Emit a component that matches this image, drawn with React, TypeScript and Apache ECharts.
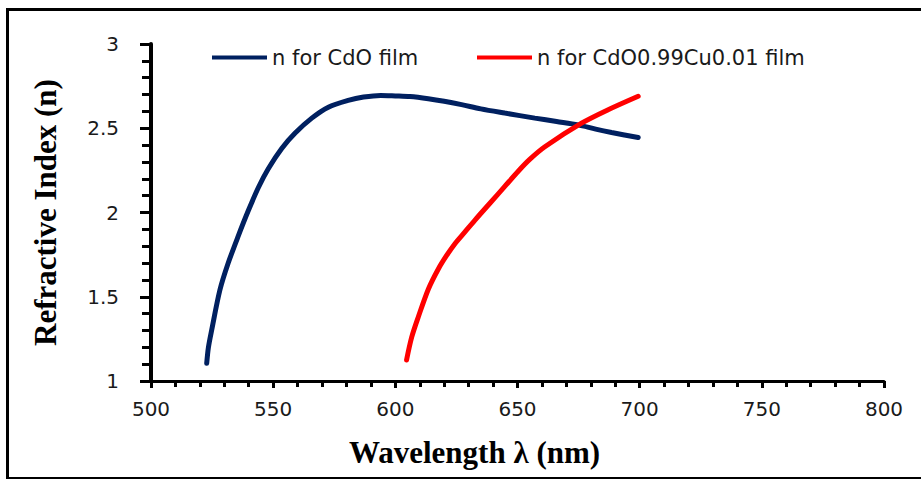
import React, { useEffect, useRef } from "react";
import * as echarts from "echarts";

// Refractive index n versus wavelength for the two films
const cdoWavelength = [522.8, 523.5, 524.8, 528.2, 531.6, 535.7, 539.8, 544.0, 548.0, 553.5, 558.9, 565.8, 572.6, 580.7, 587.0, 594.0, 600.0, 606.0, 613.5, 620.0, 627.1, 635.0, 644.8, 657.1, 666.0, 674.8, 682.0, 688.5, 699.4];
const cdoN = [1.105, 1.2, 1.3, 1.54, 1.7, 1.86, 2.01, 2.15, 2.26, 2.38, 2.47, 2.56, 2.625, 2.665, 2.685, 2.695, 2.692, 2.688, 2.675, 2.66, 2.64, 2.615, 2.59, 2.56, 2.54, 2.52, 2.495, 2.475, 2.445];

const cuWavelength = [604.6, 606.7, 609.4, 613.5, 617.6, 621.0, 624.4, 628.5, 632.6, 638.7, 644.8, 650.3, 655.0, 661.2, 676.2, 687.1, 699.4];
const cuN = [1.125, 1.26, 1.38, 1.545, 1.665, 1.745, 1.815, 1.885, 1.955, 2.055, 2.155, 2.245, 2.315, 2.39, 2.53, 2.61, 2.69];

const seriesNames = ["n for CdO film", "n for CdO0.99Cu0.01 film"];
const seriesColors = ["#002060", "#ff0000"];

const xTitle = "Wavelength λ (nm)";
const yTitle = "Refractive Index (n)";

const pairs = (xs: number[], ys: number[]) => xs.map((x, i) => [x, ys[i]]);

export default function App() {
  const ref = useRef<HTMLDivElement>(null);

  useEffect(() => {
    document.body.style.margin = "0";
    if (!ref.current) return;
    const chart = echarts.init(ref.current, undefined, { renderer: "svg" });

    const labelFont = {
      fontFamily: "DejaVu Sans",
      fontSize: 20,
      color: "#1a1a1a",
    };
    const titleFont = {
      fontFamily: "Liberation Serif",
      fontWeight: "bold" as const,
      fontSize: 31,
      color: "#000",
    };
    const legendBase = {
      top: 42,
      icon: "rect",
      itemWidth: 55,
      itemHeight: 4,
      textStyle: { fontFamily: "DejaVu Sans", fontSize: 21, color: "#1a1a1a" },
    };

    chart.setOption({
      animation: false,
      backgroundColor: "#ffffff",
      grid: { left: 151, top: 44, right: 37, bottom: 98, containLabel: false },
      legend: [
        { ...legendBase, left: 207, data: [seriesNames[0]] },
        { ...legendBase, left: 472, data: [seriesNames[1]] },
      ],
      xAxis: {
        type: "value",
        min: 500,
        max: 800,
        interval: 50,
        name: xTitle,
        nameLocation: "middle",
        nameGap: 56,
        nameTextStyle: { ...titleFont, padding: [0, 86, 0, 0] },
        axisLine: { show: true, lineStyle: { color: "#000", width: 3 } },
        axisTick: { show: true, length: 7, lineStyle: { color: "#000", width: 3 } },
        minorTick: { show: true, splitNumber: 5, length: 6, lineStyle: { color: "#000", width: 3 } },
        splitLine: { show: false },
        minorSplitLine: { show: false },
        axisLabel: { ...labelFont, margin: 18 },
      },
      yAxis: {
        type: "value",
        min: 1,
        max: 3,
        interval: 0.5,
        name: yTitle,
        nameLocation: "middle",
        nameGap: 90,
        nameTextStyle: titleFont,
        axisLine: { show: true, lineStyle: { color: "#000", width: 4 } },
        axisTick: { show: true, length: 11, lineStyle: { color: "#000", width: 3 } },
        minorTick: { show: true, splitNumber: 5, length: 9, lineStyle: { color: "#000", width: 3 } },
        splitLine: { show: false },
        minorSplitLine: { show: false },
        axisLabel: { ...labelFont, margin: 32 },
      },
      series: [
        {
          name: seriesNames[0],
          type: "line",
          data: pairs(cdoWavelength, cdoN),
          showSymbol: false,
          smooth: 0.3,
          color: seriesColors[0],
          lineStyle: { width: 5, color: seriesColors[0], cap: "round" },
        },
        {
          name: seriesNames[1],
          type: "line",
          data: pairs(cuWavelength, cuN),
          showSymbol: false,
          smooth: 0.3,
          color: seriesColors[1],
          lineStyle: { width: 5, color: seriesColors[1], cap: "round" },
        },
      ],
      graphic: [
        {
          type: "rect",
          left: 5,
          top: 7,
          shape: { width: 930, height: 469 },
          style: { fill: "none", stroke: "#000", lineWidth: 3 },
          silent: true,
        },
      ],
    });

    return () => chart.dispose();
  }, []);

  return (
    <div
      ref={ref}
      style={{ position: "absolute", left: 0, top: 0, width: 921, height: 479 }}
    />
  );
}
